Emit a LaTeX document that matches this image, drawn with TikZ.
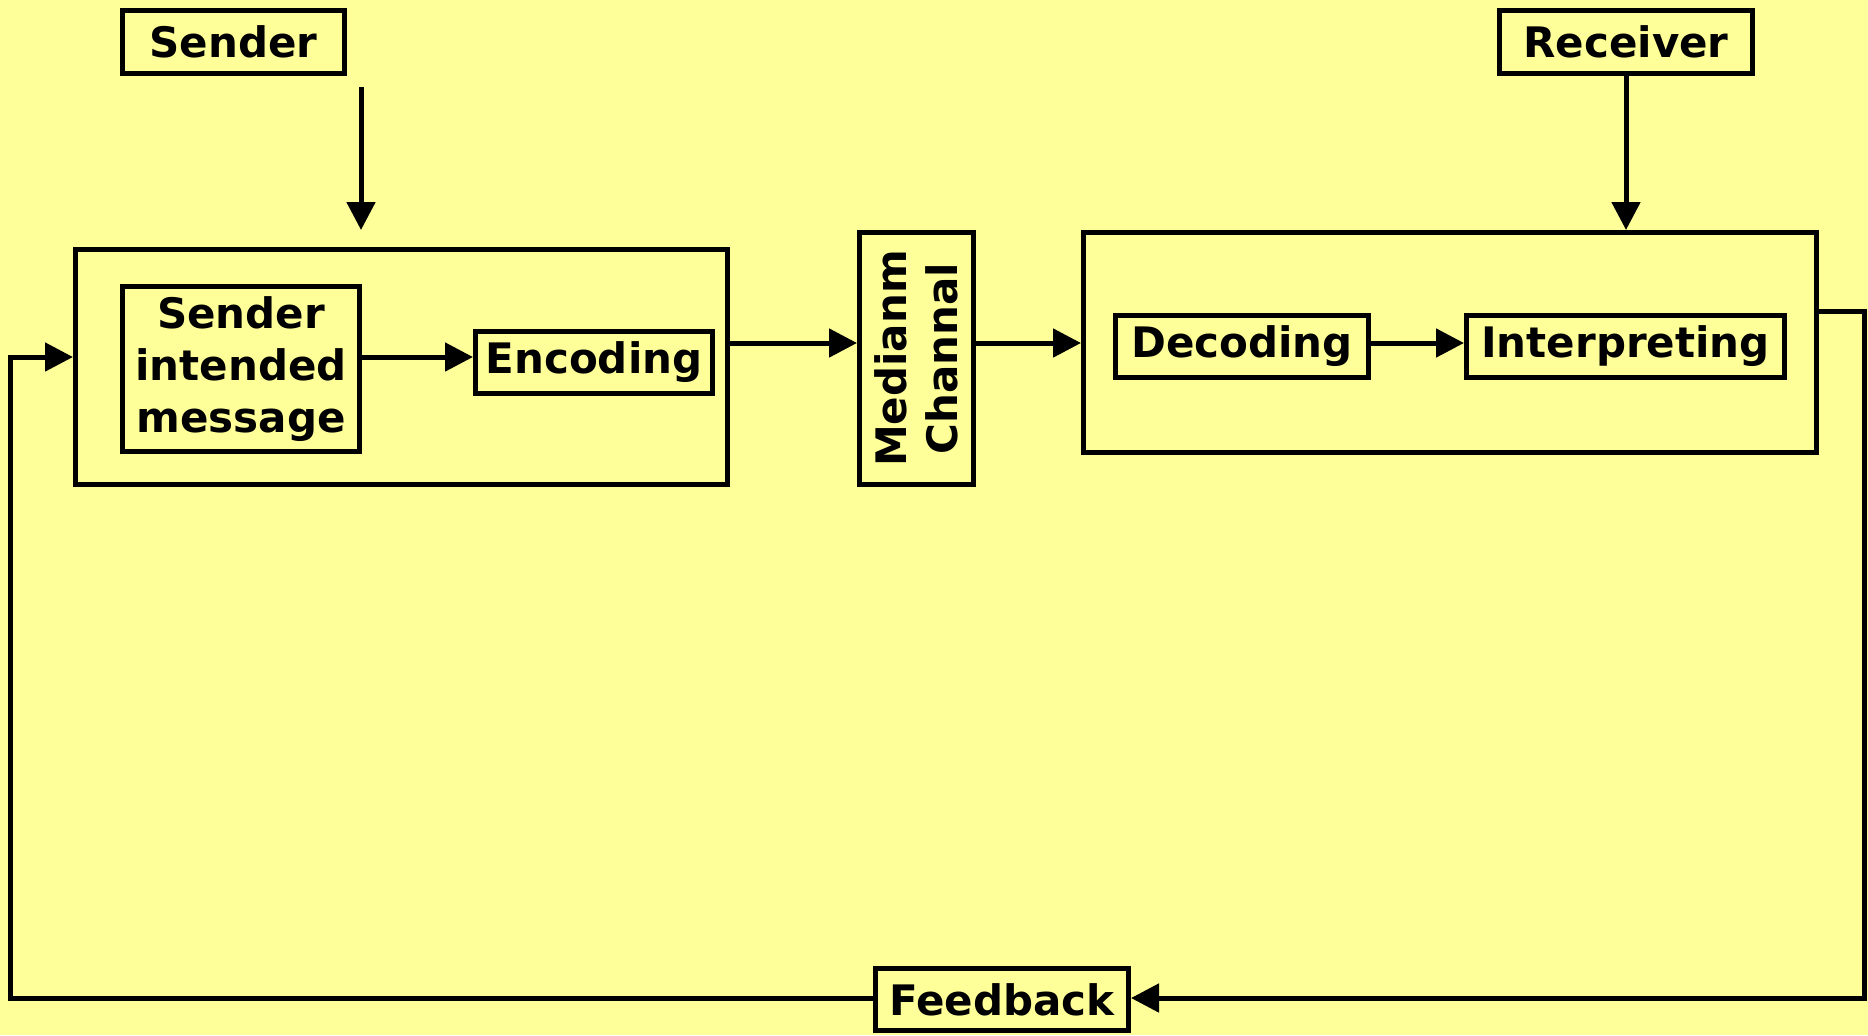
\documentclass[tikz,border=0pt]{standalone}
\usepackage{fontspec}
\setmainfont{DejaVu Sans}
\usetikzlibrary{arrows.meta,calc}
\definecolor{bg}{RGB}{255,255,153}
\begin{document}
\begin{tikzpicture}[x=0.5pt,y=-0.5pt,
  box/.style={draw=black, line width=2.5pt, inner sep=0pt, align=center,
    font=\fontsize{21pt}{25.8pt}\selectfont\bfseries},
  arr/.style={line width=2.5pt, -{Triangle[length=14pt,width=14pt]}},
  ln/.style={line width=2.5pt}]
\fill[bg] (0,0) rectangle (1868,1035);
\useasboundingbox (0,0) rectangle (1868,1035);
% top labels
\node[box, minimum width=111pt, minimum height=31.5pt] (sender) at (233.5,42) {Sender};
\node[box, minimum width=126.5pt, minimum height=31.5pt] (recv) at (1626,42) {Receiver};
% sender side
\node[box, minimum width=326pt, minimum height=117.5pt] (left) at (401.5,367) {};
\node[box, minimum width=118.5pt, minimum height=82.5pt] (sim) at (241,369) {Sender\\intended\\message};
\node[box, minimum width=118.5pt, minimum height=31pt] (enc) at (594,362.5) {Encoding};
% channel (rotated: north = left side, south = right side)
\node[box, rotate=90, minimum width=126pt, minimum height=57pt] (med) at (916.5,358.5) {Medianm\\Channal};
% receiver side
\node[box, minimum width=366.5pt, minimum height=110pt] (right) at (1450,342.5) {};
\node[box, minimum width=126.5pt, minimum height=31pt] (dec) at (1242,346.5) {Decoding};
\node[box, minimum width=159pt, minimum height=31pt] (interp) at (1625.5,346.5) {Interpreting};
% feedback
\node[box, minimum width=126.5pt, minimum height=31pt] (fb) at (1002,999.5) {Feedback};
% connectors
\coordinate (s1) at (361,87);
\draw[arr, shorten >=8.5pt] (s1) -- (s1 |- left.north);
\draw[arr] (recv.south) -- (recv.south |- right.north);
\draw[arr] ([yshift=6pt]sim.east) -- ([yshift=6pt]sim.east -| enc.west);
\draw[arr] ([yshift=12pt]left.east) -- ([yshift=12pt]left.east -| med.north);
\draw[arr] ([yshift=7.75pt]med.south) -- ([yshift=7.75pt]med.south -| right.west);
\draw[arr] ([yshift=1.75pt]dec.east) -- ([yshift=1.75pt]dec.east -| interp.west);
\coordinate (fr) at (1864,998);
\coordinate (fl) at (10,998);
\draw[arr] ([yshift=15.75pt]right.east) -| (fr) -- (fb.east |- fr);
\draw[arr] (fb.west |- fl) -- (fl) |- ([yshift=5pt]left.west);
\end{tikzpicture}
\end{document}
